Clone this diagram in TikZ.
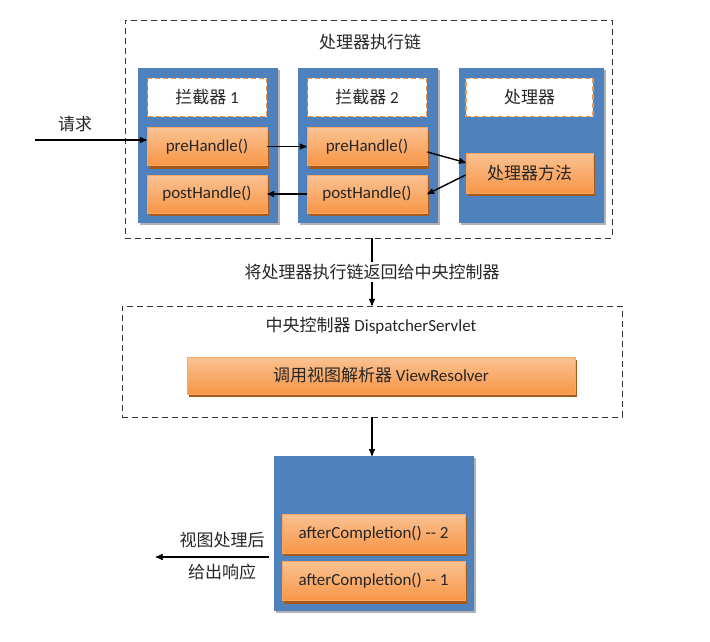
\documentclass[tikz,border=0pt]{standalone}
\usepackage{fontspec}
\setmainfont{Carlito}
\newfontfamily\cjk{Noto Sans CJK SC}
\usepackage{tikz}
\usetikzlibrary{arrows,shapes,shadows,positioning,backgrounds}
\definecolor{panelblue}{HTML}{4F81BD}
\definecolor{orangemid}{HTML}{F79646}
\definecolor{orangelight}{HTML}{FAC293}
\definecolor{orangeshadow}{HTML}{A65A1A}

\begin{document}
\begin{tikzpicture}[x=1pt,y=-1pt,node distance=47.5pt,>=stealth',font=\fontsize{17}{20}\selectfont,text=black!85]
        \tikzstyle{dashframe}=[rectangle,draw=black!80,dash pattern=on 6pt off 4pt,line width=0.9pt]
        \tikzstyle{panel}=[rectangle,fill=panelblue,drop shadow={shadow xshift=2pt,shadow yshift=-2pt,fill=black!30,opacity=1}]
        \tikzstyle{titlebox}=[rectangle,fill=white,draw=orangemid,dash pattern=on 5pt off 3pt,line width=1.6pt,minimum width=119pt,minimum height=38pt]
        \tikzstyle{method}=[rectangle,top color=orangelight,bottom color=orangemid,draw=orangemid!85!white,line width=0.8pt,minimum width=120pt,minimum height=38pt,drop shadow={shadow xshift=2pt,shadow yshift=-3pt,fill=orangeshadow,opacity=1}]
        \tikzstyle{flow}=[->,line width=1.4pt,draw=black]
        \useasboundingbox (0,0) rectangle (710,642);
        % handler execution chain
        \node[dashframe,minimum width=487pt,minimum height=218pt](chainbox) at (368.5,129){};
        \node(chaintitle) at (370,42){\cjk 处理器执行链};
        \node[panel,minimum width=140pt,minimum height=155pt](panela) at (208,145.5){};
        \node[panel,minimum width=140pt,minimum height=155pt](panelb) at (368,145.5){};
        \node[panel,minimum width=145pt,minimum height=155pt](panelc) at (531,145.5){};
        \node[titlebox](intera) at (207,97.5){{\cjk 拦截器} 1};
        \node[titlebox](interb) at (367,97.5){{\cjk 拦截器} 2};
        \node[titlebox,minimum width=127pt](handler) at (529.5,97.5){\cjk 处理器};
        \node[method](prea) at (207,146.5){preHandle()};
        \node[method](posta)[below of=prea]{postHandle()};
        \node[method](preb) at (367,146.5){preHandle()};
        \node[method](postb)[below of=preb]{postHandle()};
        \node[method,minimum width=127pt,minimum height=40pt](hmethod) at (529.5,173){\cjk 处理器方法};
        \coordinate(request) at (35,140);
        \draw[flow] (request) -- (request -| prea.west) node[pos=0.36,above=4pt]{\cjk 请求};
        \draw[flow] (prea) -- (preb);
        \draw[flow] ([yshift=-5.5pt]preb.east) -- ([yshift=-10pt]hmethod.north west);
        \draw[flow] ([yshift=-2pt]hmethod.west) -- (postb.east);
        \draw[flow] (postb) -- (posta);
        % dispatcher
        \node[dashframe,minimum width=500pt,minimum height=111pt](ctrlbox) at (372,361.5){};
        \node(ctrltitle) at (371,326){{\cjk 中央控制器} DispatcherServlet};
        \node[method,minimum width=388pt,minimum height=37pt](resolver) at (381,375.5){{\cjk 调用视图解析器} ViewResolver};
        \draw[flow] (chainbox.south -| ctrlbox.north) -- (ctrlbox.north)
            node[midway,fill=white,inner sep=2pt]{\cjk 将处理器执行链返回给中央控制器};
        % completion
        \node[panel,minimum width=200pt,minimum height=155pt](panelend) at (374,533.5){};
        \node[method,minimum width=183pt,minimum height=39pt](aftertwo) at (373.5,533.5){afterCompletion() -{}- 2};
        \node[method,minimum width=183pt,minimum height=39pt](afterone)[below of=aftertwo]{afterCompletion() -{}- 1};
        \draw[flow] (ctrlbox.south) -- (ctrlbox.south |- panelend.north);
        \coordinate(response) at (156,557);
        \draw[flow,shorten <=5pt] (panelend.west |- response) -- (response);
        \node(viewdone) at (222,540){\cjk 视图处理后};
        \node(giveback) at (222,572){\cjk 给出响应};
\end{tikzpicture}
\end{document}
